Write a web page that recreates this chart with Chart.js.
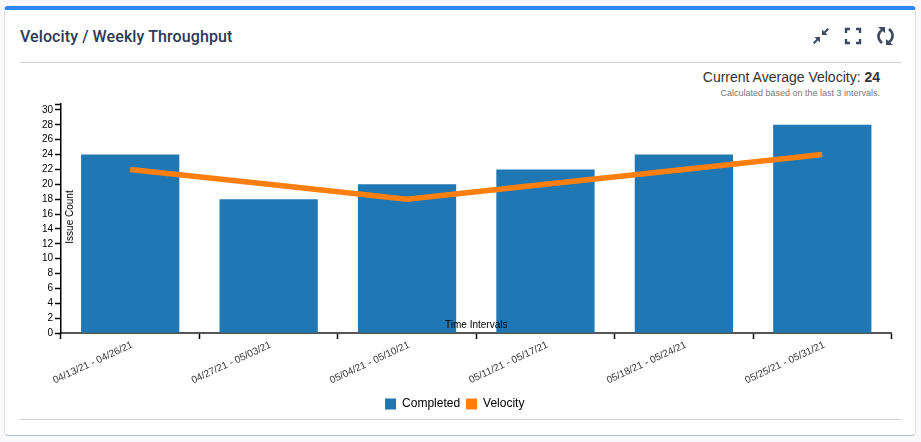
<!DOCTYPE html>
<html>
<head>
<meta charset="utf-8">
<script src="https://cdn.jsdelivr.net/npm/chart.js@4/dist/chart.umd.min.js"></script>
<style>
  html, body { margin: 0; padding: 0; background: #f9f9fb; }
  body { width: 921px; height: 442px; position: relative; overflow: hidden; font-family: "Liberation Sans", Arial, sans-serif; }
  .card { position: absolute; left: 4px; top: 6px; width: 912px; height: 430px; box-sizing: border-box; background: #fff;
          border: 1px solid #dfe2ea; border-top: 4px solid #2e86f6; border-bottom: 1px solid #b9c0d4; border-radius: 4px; }
  .title { position: absolute; left: 20px; top: 27px; font: 500 16px Roboto, sans-serif; color: #2b3a55; letter-spacing: .1px; }
  .rule { position: absolute; left: 20px; width: 881px; height: 1px; background: #cfcfd2; }
  .avg { position: absolute; right: 41px; top: 69px; font-size: 14px; color: #333; }
  .sub { position: absolute; right: 41px; top: 88px; font-size: 9px; color: #777; }
  canvas { position: absolute; left: 0; top: 0; }
  svg { position: absolute; top: 26px; }
</style>
</head>
<body>
<div class="card"></div>
<div class="title">Velocity / Weekly Throughput</div>
<div class="rule" style="top:62px"></div>
<div class="rule" style="top:419px"></div>
<div class="avg">Current Average Velocity: <b>24</b></div>
<div class="sub">Calculated based on the last 3 intervals.</div>

<svg style="left:812px" width="18" height="20" viewBox="0 0 18 20" fill="#3d4a63">
  <path d="M10 9V3.500l2 2L15.500 2 17 3.500 13.500 7l2 2zM8 11v5.500l-2-2L2.500 18 1 16.500 4.500 13l-2-2z"/>
</svg>
<svg style="left:844px" width="18" height="20" viewBox="0 0 18 20" fill="none" stroke="#3d4a63" stroke-width="2.4">
  <path d="M2 7V3h4M12 3h4v4M16 13v4h-4M6 17H2v-4"/>
</svg>
<svg style="left:876px" width="19" height="20" viewBox="0 0 19 20" fill="none" stroke="#3d4a63" stroke-width="2.6">
  <path d="M6 4C1.500 7 1 13 6 17M13 16c4.500-3 5-9 0-13"/>
  <path d="M2 1h7v6zM17 19h-7v-6z" fill="#3d4a63" stroke="none"/>
</svg>

<canvas id="velocityChart" width="921" height="442"></canvas>

<script>
const categories = ['04/13/21 - 04/26/21', '04/27/21 - 05/03/21', '05/04/21 - 05/10/21',
                    '05/11/21 - 05/17/21', '05/18/21 - 05/24/21', '05/25/21 - 05/31/21'];
const completed = [24, 18, 20, 22, 24, 28];
const velocity = [22, 20, 18, 20, 22, 24];
const yTicks = [0, 2, 4, 6, 8, 10, 12, 14, 16, 18, 20, 22, 24, 26, 28, 30];
const yMax = 30.8;

// axis titles sit inside the plot in the original
const axisTitles = {
    id: 'axisTitles',
    afterLayout(chart) {
        // legend is centred on the page, not on the plot
        chart.legend.left += 8.5;
        chart.legend.right += 8.5;
    },
    afterDraw(chart) {
        const { ctx, chartArea: { left, bottom, width } } = chart;
        ctx.save();
        ctx.fillStyle = '#000';
        ctx.font = '10px "Liberation Sans"';
        ctx.textAlign = 'center';
        ctx.textBaseline = 'middle';
        ctx.fillText('Time Intervals', left + width / 2, bottom - 8);
        ctx.translate(left + 9, 217);
        ctx.rotate(-Math.PI / 2);
        ctx.fillText('Issue Count', 0, 0);
        ctx.restore();
    }
};

new Chart(document.getElementById('velocityChart'), {
    type: 'bar',
    data: {
        labels: categories,
        datasets: [
            { label: 'Completed', data: completed, backgroundColor: '#1f77b4', order: 2,
              barPercentage: 0.71, categoryPercentage: 1 },
            { label: 'Velocity', type: 'line', data: velocity, borderColor: '#ff7f0e', backgroundColor: '#ff7f0e',
              borderWidth: 5.500, pointRadius: 0, tension: 0, order: 1 }
        ]
    },
    options: {
        responsive: false,
        animation: false,
        layout: { padding: { left: 1, right: 29.500, top: 104, bottom: 22 } },
        plugins: {
            tooltip: { enabled: false },
            legend: {
                position: 'bottom',
                labels: {
                    boxWidth: 11, boxHeight: 11, padding: 6, color: '#000',
                    font: { family: 'Liberation Sans', size: 12 },
                    // keep dataset order and flat swatches for both entries
                    generateLabels(chart) {
                        return chart.data.datasets.map((ds, i) => ({
                            text: ds.label, fillStyle: ds.backgroundColor, strokeStyle: ds.backgroundColor,
                            lineWidth: 0, datasetIndex: i, fontColor: '#000'
                        }));
                    }
                }
            }
        },
        scales: {
            x: {
                offset: true,
                afterFit(scale) { scale.height = 59; },
                grid: { offset: true, drawOnChartArea: false, color: '#000', tickLength: 6, tickWidth: 1.5 },
                border: { color: '#555', width: 2 },
                ticks: { minRotation: 25, maxRotation: 25, autoSkip: false, padding: 0, labelOffset: 2, color: '#333',
                         font: { family: 'Liberation Sans', size: 10 } }
            },
            y: {
                min: 0,
                max: yMax,
                afterFit(scale) { scale.width = 60; },
                afterBuildTicks(scale) { scale.ticks = yTicks.concat(yMax).map(v => ({ value: v })); },
                grid: { drawOnChartArea: false, color: '#000', tickLength: 6, tickWidth: 1.5 },
                border: { color: '#000', width: 1.5 },
                ticks: { autoSkip: false, padding: 2, color: '#000', font: { family: 'Liberation Sans', size: 10 },
                         callback: v => yTicks.includes(v) ? v : '' }
            }
        }
    },
    plugins: [axisTitles]
});
</script>
</body>
</html>
